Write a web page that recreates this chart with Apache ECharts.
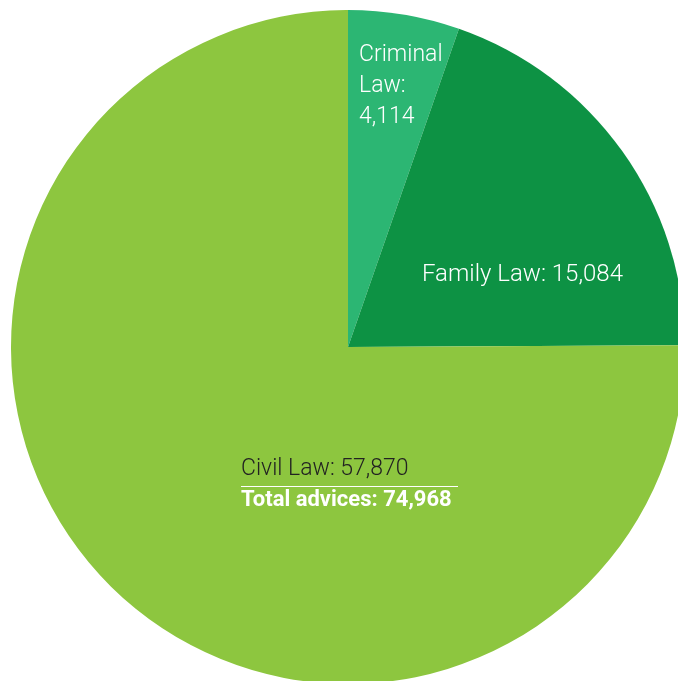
<!DOCTYPE html>
<html>
<head>
<meta charset="utf-8">
<script src="https://cdn.jsdelivr.net/npm/echarts@6/dist/echarts.min.js"></script>
<style>
html,body{margin:0;padding:0;background:#fff;}
#chart{width:678px;height:681px;}
</style>
</head>
<body>
<div id="chart"></div>
<script>
var categories = ['Criminal Law', 'Family Law', 'Civil Law'];
var values = [4114, 15084, 57870];
var totalLabel = 'Total advices';
var totalValue = 74968;
var colors = ['#2cb673', '#0d9244', '#8dc63f'];

function fmt(v) { return v.toLocaleString('en-US'); }

var chart = echarts.init(document.getElementById('chart'), null, {renderer: 'canvas'});
var font = 'Roboto, "Liberation Sans", sans-serif';

chart.setOption({
  backgroundColor: '#ffffff',
  animation: false,
  series: [{
    type: 'pie',
    z: 1,
    center: [348, 347],
    radius: 337,
    startAngle: 90,
    clockwise: true,
    silent: true,
    label: {show: false},
    labelLine: {show: false},
    itemStyle: {borderWidth: 0},
    data: categories.map(function (c, i) {
      return {name: c, value: values[i], itemStyle: {color: colors[i]}};
    })
  }],
  graphic: {
    elements: [
      {
        type: 'text', left: 359, top: 40, z: 100,
        style: {
          text: 'Criminal\nLaw:\n' + fmt(values[0]),
          fill: '#ffffff', font: '300 23px ' + font, lineHeight: 31
        }
      },
      {
        type: 'text', left: 422, top: 263, z: 100,
        style: {
          text: categories[1] + ': ' + fmt(values[1]),
          fill: '#ffffff', font: '300 24px ' + font
        }
      },
      {
        type: 'text', left: 241, top: 458, z: 100,
        style: {
          text: categories[2] + ': ' + fmt(values[2]),
          fill: '#222222', font: '300 23px ' + font
        }
      },
      {
        type: 'line', z: 100,
        shape: {x1: 241, y1: 486.5, x2: 458, y2: 486.5},
        style: {stroke: '#ffffff', lineWidth: 1.2}
      },
      {
        type: 'text', left: 241, top: 489, z: 100,
        style: {
          text: totalLabel + ': ' + fmt(totalValue),
          fill: '#ffffff', font: 'bold 22px ' + font
        }
      }
    ]
  }
});
</script>
</body>
</html>
